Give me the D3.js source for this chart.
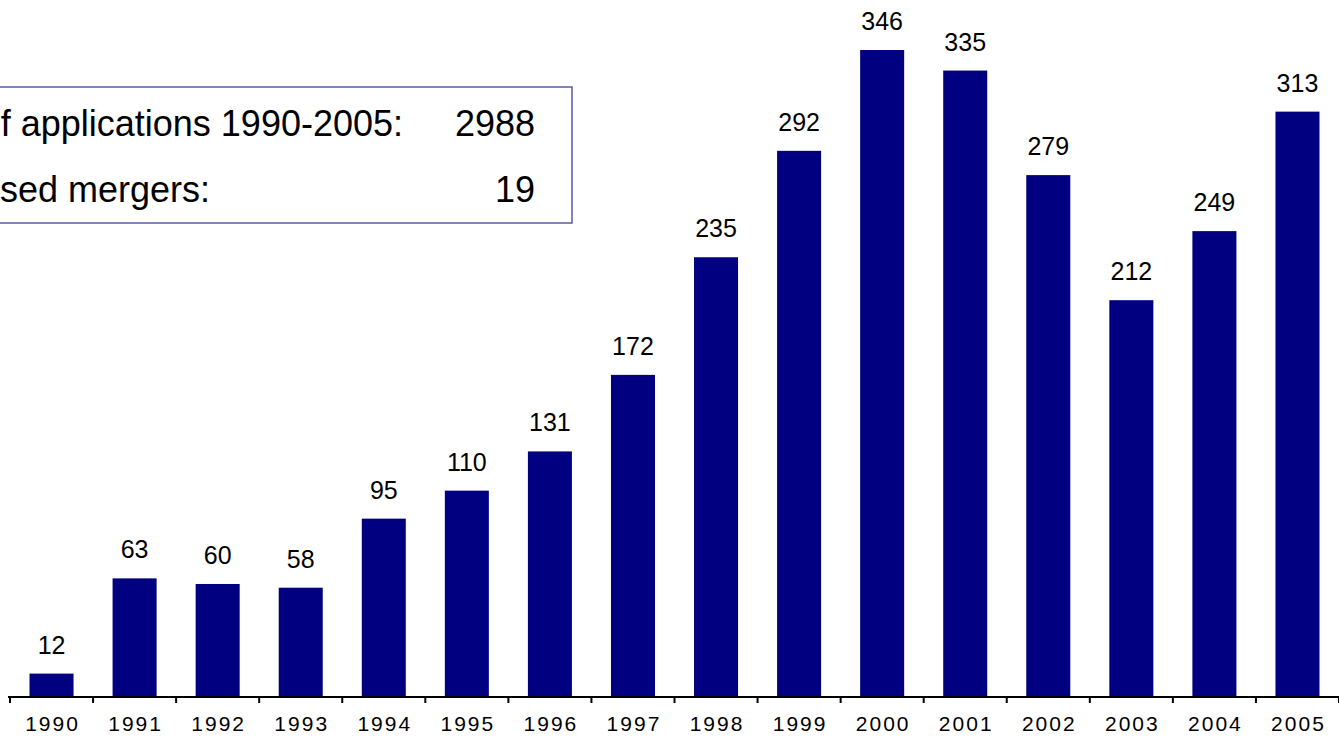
<!DOCTYPE html>
<html>
<head>
<meta charset="utf-8">
<script src="https://cdn.jsdelivr.net/npm/d3@7"></script>
<style>
  html, body { margin: 0; padding: 0; background: #fff; overflow: hidden; }
  svg { display: block; }
  text { font-family: "Liberation Sans", Arial, sans-serif; fill: #000; }
</style>
</head>
<body>
<svg id="chart" width="1339" height="740"></svg>
<script>
const years = ["1990","1991","1992","1993","1994","1995","1996","1997","1998","1999","2000","2001","2002","2003","2004","2005"];
const applications = [12, 63, 60, 58, 95, 110, 131, 172, 235, 292, 346, 335, 279, 212, 249, 313];
const boxLabels = ["f applications 1990-2005:", "sed mergers:"];
const boxValues = ["2988", "19"];

const W = 1339, H = 740;
const svg = d3.select("#chart");

const baseY = 696;
const x = d3.scaleBand().domain(years).range([10, 1339]).paddingInner(0.47).paddingOuter(0.235);
const y = d3.scaleLinear().domain([0, 350]).range([baseY, baseY - 350 * 1.867]);

// bars
svg.append("g").selectAll("rect").data(applications).join("rect")
  .attr("x", (d, i) => x(years[i]))
  .attr("y", d => y(d))
  .attr("width", x.bandwidth())
  .attr("height", d => y(0) - y(d))
  .attr("fill", "#000080");

// value labels
svg.append("g").selectAll("text").data(applications).join("text")
  .attr("x", (d, i) => x(years[i]) + x.bandwidth() / 2)
  .attr("y", d => y(d) - 20)
  .attr("text-anchor", "middle")
  .attr("font-size", 25)
  .text(d => d);

// axis line
const step = x.step();
const start = x(years[0]) - step * x.paddingInner() / 2;
svg.append("line")
  .attr("x1", start - 2).attr("x2", W)
  .attr("y1", baseY + 1).attr("y2", baseY + 1)
  .attr("stroke", "#000").attr("stroke-width", 2);

// tick marks at category boundaries
const bounds = d3.range(years.length + 1).map(i => start + i * step);
svg.append("g").selectAll("line").data(bounds).join("line")
  .attr("x1", d => d).attr("x2", d => d)
  .attr("y1", baseY).attr("y2", baseY + 7)
  .attr("stroke", "#000").attr("stroke-width", 2);

// category labels
svg.append("g").selectAll("text").data(years).join("text")
  .attr("x", d => x(d) + x.bandwidth() / 2 + 1)
  .attr("y", 731)
  .attr("text-anchor", "middle")
  .attr("font-size", 21)
  .attr("letter-spacing", 2)
  .text(d => d);

// info box
svg.append("rect")
  .attr("x", -10).attr("y", 87)
  .attr("width", 582).attr("height", 136)
  .attr("fill", "none")
  .attr("stroke", "#5a5aa8").attr("stroke-width", 1.5);

const rowsY = [136, 202];
svg.append("g").selectAll("text").data(boxLabels).join("text")
  .attr("x", (d, i) => i === 0 ? 403 : 210)
  .attr("y", (d, i) => rowsY[i])
  .attr("text-anchor", "end")
  .attr("font-size", 36)
  .text(d => d);
svg.append("g").selectAll("text").data(boxValues).join("text")
  .attr("x", 535)
  .attr("y", (d, i) => rowsY[i])
  .attr("text-anchor", "end")
  .attr("font-size", 36)
  .text(d => d);
</script>
</body>
</html>
